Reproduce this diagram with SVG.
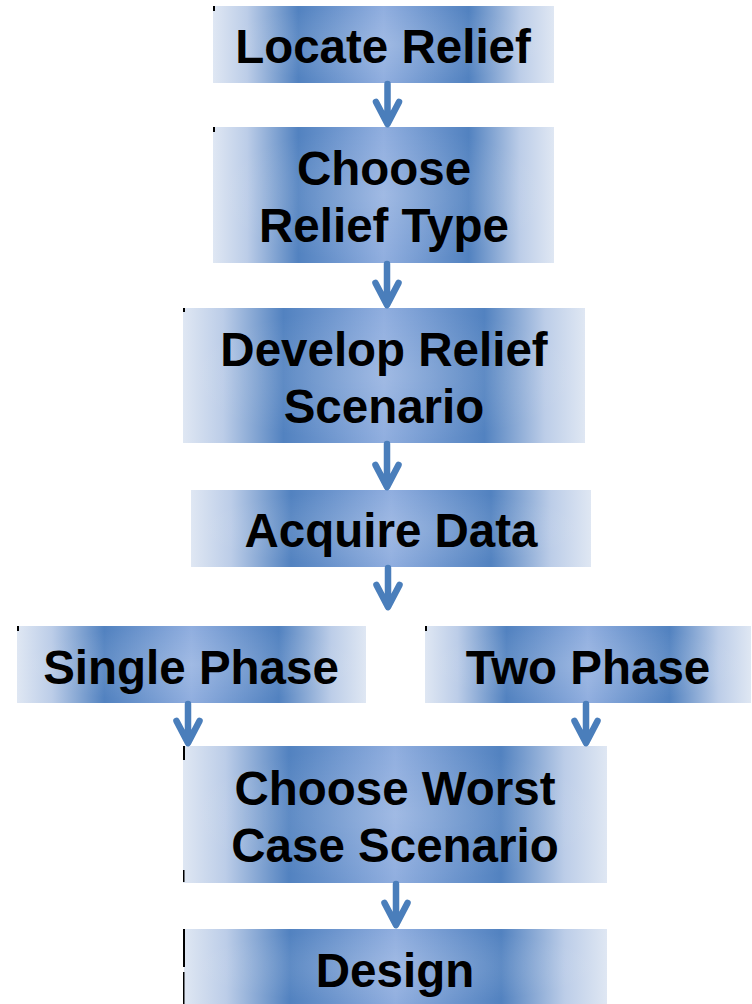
<svg xmlns="http://www.w3.org/2000/svg" width="752" height="1004" viewBox="0 0 752 1004">
  <defs>
    <linearGradient id="band" x1="0" y1="0" x2="1" y2="0">
      <stop offset="0" stop-color="#dfe7f3"/>
      <stop offset="0.1" stop-color="#bccde8"/>
      <stop offset="0.25" stop-color="#5282c0"/>
      <stop offset="0.5" stop-color="#90aedf"/>
      <stop offset="0.75" stop-color="#5282c0"/>
      <stop offset="0.9" stop-color="#bccde8"/>
      <stop offset="1" stop-color="#dfe7f3"/>
    </linearGradient>
    <radialGradient id="glow" cx="0.5" cy="0.5" r="0.5">
      <stop offset="0" stop-color="#ffffff" stop-opacity="0.15"/>
      <stop offset="1" stop-color="#ffffff" stop-opacity="0"/>
    </radialGradient>
  </defs>
  <style>
    .box { fill: url(#band); }
    .glow { fill: url(#glow); }
    .tick { fill: #000000; }
    .label { font-family: "Liberation Sans", Arial, sans-serif; font-weight: bold; font-size: 47.5px; fill: #000000; text-anchor: middle; }
    .arrow { fill: none; stroke: #4a7ebb; stroke-width: 6.5; stroke-linecap: round; stroke-linejoin: round; }
  </style>

  <rect width="752" height="1004" fill="#ffffff"/>

  <g id="locate-relief">
    <rect class="box" x="213" y="6" width="341" height="77"/>
    <rect class="glow" x="213" y="6" width="341" height="77"/>
    <rect class="tick" x="213" y="6" width="2" height="5"/>
    <text class="label" x="383" y="63">Locate Relief</text>
  </g>

  <g id="choose-relief-type">
    <rect class="box" x="213" y="127" width="341" height="136"/>
    <rect class="glow" x="213" y="127" width="341" height="136"/>
    <rect class="tick" x="213" y="127" width="2" height="5"/>
    <text class="label" x="384" y="185">Choose</text>
    <text class="label" x="384" y="242">Relief Type</text>
  </g>

  <g id="develop-relief-scenario">
    <rect class="box" x="183" y="308" width="402" height="135"/>
    <rect class="glow" x="183" y="308" width="402" height="135"/>
    <rect class="tick" x="183" y="308" width="2" height="4"/>
    <text class="label" x="384" y="366">Develop Relief</text>
    <text class="label" x="384" y="423">Scenario</text>
  </g>

  <g id="acquire-data">
    <rect class="box" x="191" y="490" width="400" height="77"/>
    <rect class="glow" x="191" y="490" width="400" height="77"/>
    <text class="label" x="391" y="547">Acquire Data</text>
  </g>

  <g id="single-phase">
    <rect class="box" x="17" y="626" width="349" height="77"/>
    <rect class="glow" x="17" y="626" width="349" height="77"/>
    <rect class="tick" x="17" y="626" width="2" height="5"/>
    <text class="label" x="191" y="684">Single Phase</text>
  </g>

  <g id="two-phase">
    <rect class="box" x="425" y="626" width="326" height="77"/>
    <rect class="glow" x="425" y="626" width="326" height="77"/>
    <rect class="tick" x="425" y="626" width="2" height="5"/>
    <text class="label" x="588" y="684">Two Phase</text>
  </g>

  <g id="choose-worst-case">
    <rect class="box" x="183" y="746" width="424" height="137"/>
    <rect class="glow" x="183" y="746" width="424" height="137"/>
    <rect class="tick" x="183" y="746" width="2" height="14"/>
    <rect class="tick" x="183" y="870" width="1.5" height="12"/>
    <text class="label" x="395" y="805">Choose Worst</text>
    <text class="label" x="395" y="862">Case Scenario</text>
  </g>

  <g id="design">
    <rect class="box" x="184" y="929" width="423" height="75"/>
    <rect class="glow" x="184" y="929" width="423" height="75"/>
    <rect class="tick" x="183" y="929" width="2" height="38"/>
    <rect class="tick" x="183" y="972" width="1.5" height="32"/>
    <text class="label" x="395" y="987">Design</text>
  </g>

  <g id="connectors">
    <path class="arrow" d="M387.5 84 V123 M376 102 L387.5 124 L399 102"/>
    <path class="arrow" d="M387 264 V304 M375.5 283 L387 305 L398.5 283"/>
    <path class="arrow" d="M387 444 V486 M375.5 465 L387 487 L398.5 465"/>
    <path class="arrow" d="M388 568 V606 M376.5 585 L388 607 L399.5 585"/>
    <path class="arrow" d="M188 704 V742 M176.5 721 L188 743 L199.5 721"/>
    <path class="arrow" d="M586 704 V742 M574.5 721 L586 743 L597.5 721"/>
    <path class="arrow" d="M396 884 V924 M384.5 903 L396 925 L407.5 903"/>
  </g>
</svg>
